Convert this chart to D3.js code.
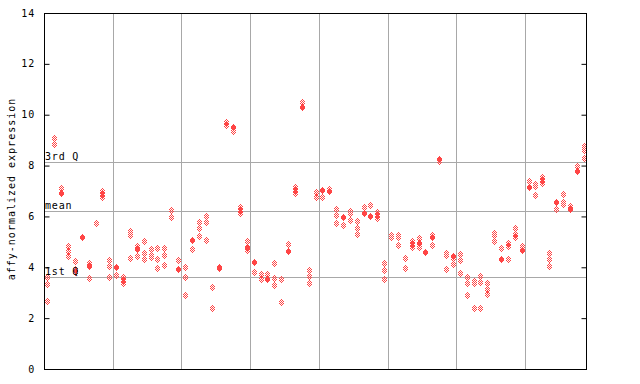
<!DOCTYPE html>
<html><head><meta charset="utf-8">
<script src="https://cdn.jsdelivr.net/npm/d3@7"></script>
<style>
html,body{margin:0;padding:0;background:#fff;}
text{font-family:"DejaVu Sans Mono",monospace;font-size:10px;fill:#000;}
</style></head>
<body>
<svg id="chart" width="640" height="384"></svg>
<script>
// replicate values per sample column (hollow diamonds)
const samples = [
 [3.62,3.33,2.68],[9.07,8.84],[7.11],[4.85,4.63,4.44],[4.24,3.94,3.80],
 [],[4.16,3.57],[5.75],[7.00,6.88,6.75],[4.27,4.04,3.63],
 [3.68],[3.61,3.50,3.37],[5.44,5.26,4.35],[4.84,4.44],[5.03,4.55,4.31],
 [4.72,4.48,4.39],[4.75,4.31,3.96],[4.75,4.47,4.08],[6.25,5.97],[4.27],
 [4.00,3.61,2.90],[4.71],[5.77,5.53,5.22],[6.00,5.77,5.06],[3.21,2.40],
 [3.96],[9.73,9.61],[9.37],[6.37,6.25,6.15],[5.03,4.69],
 [3.80],[3.72,3.53],[3.72],[4.16,3.57,3.29],[3.53,2.63],
 [4.90],[7.14,7.03,6.91],[10.51],[3.88,3.65,3.37],[6.97,6.78],
 [6.78],[7.09],[6.28,6.07,5.73],[5.65],[6.23,6.12,5.86],
 [5.81,5.53,5.30],[6.36],[6.45],[6.17,6.07,5.93],[4.16,3.88,3.53],
 [5.26,5.18],[5.26,5.18,4.86],[4.35,3.96],[5.02,4.90,4.78],[5.16,4.78],
 [],[5.26,4.86],[8.17],[4.55,4.47,3.92],[4.35,4.12],
 [4.51,4.27,3.76],[3.61,3.37,2.90],[3.45,3.37,2.40],[3.65,3.41,2.40],[3.37,3.13,2.94],
 [5.33,5.26,5.02],[4.75],[4.94,4.82,4.31],[5.53,5.30,5.18],[4.82,4.75],
 [7.39],[7.26,7.18,6.83],[7.54,7.42,7.30],[4.55,4.31,4.04],[6.28],
 [6.87,6.55,6.48],[6.40],[7.97],[8.76,8.60,8.29]
];
// highlighted (filled) value per column, null when none
const filled = [
 null,null,6.93,null,null, 5.18,4.05,null,null,null,
 4.02,null,null,4.71,null, null,null,null,null,3.94,
 null,5.09,null,null,null, 4.00,null,9.53,null,4.81,
 4.22,null,3.55,null,null, 4.65,null,10.31,null,null,
 7.05,7.01,null,5.99,null, null,6.15,6.03,null,null,
 null,null,null,null,4.94, 4.61,5.18,8.26,null,4.43,
 null,null,null,null,null, null,4.33,null,null,4.67,
 7.16,null,null,null,6.58, null,6.28,7.80,null
];
const yTicks = [0,2,4,6,8,10,12,14];
const refLines = [{label:"3rd Q", v:8.16},{label:"mean", v:6.2},{label:"1st Q", v:3.6}];
const groupSize = 10;
const yLabel = "affy-normalized expression";

const svg = d3.select("#chart");
const L=44, R=587, T=13, B=369;
const x = d3.scaleLinear().domain([0, samples.length]).range([L, R]);
const y = d3.scaleLinear().domain([0, 14]).range([B, T]);
const px = v => Math.round(v) + 0.5;
const red = "#ff4545";

// vertical group separators
const seps = d3.range(groupSize, samples.length, groupSize);
svg.selectAll("line.vsep").data(seps).join("line")
  .attr("x1", d=>px(x(d))).attr("x2", d=>px(x(d)))
  .attr("y1", T).attr("y2", B)
  .attr("stroke", "#a8a8a8").attr("stroke-width", 1);

// reference lines
svg.selectAll("line.ref").data(refLines).join("line")
  .attr("x1", L).attr("x2", R)
  .attr("y1", d=>px(y(d.v))).attr("y2", d=>px(y(d.v)))
  .attr("stroke", "#a8a8a8").attr("stroke-width", 1);

// hollow checker diamond pixel offsets (5 wide x 7 tall)
const hollowPix = [];
for (let dy=-3; dy<=3; dy++) for (let dx=-2; dx<=2; dx++) {
  if (Math.abs(dx)/3 + Math.abs(dy)/4 <= 1.0 && Math.abs(dx+dy)%2===1) hollowPix.push([dx,dy]);
}
const pts = [];
samples.forEach((arr,i)=>arr.forEach(v=>pts.push({i, v})));
const hollow = svg.append("g").attr("shape-rendering","crispEdges");
pts.forEach(p=>{
  const cx = Math.round(x(p.i+0.5)), cy = Math.round(y(p.v));
  hollow.append("path")
    .attr("d", hollowPix.map(([dx,dy])=>`M${cx+dx},${cy+dy}h1v1h-1Z`).join(""))
    .attr("fill", red);
});
const fg = svg.append("g").attr("shape-rendering","crispEdges");
filled.forEach((v,i)=>{
  if (v === null) return;
  const cx = Math.round(x(i+0.5)), cy = Math.round(y(v));
  const rows = [[-3,0],[-2,1],[-1,2],[0,2],[1,2],[2,1],[3,0]];
  fg.append("path")
    .attr("d", rows.map(([dy,w])=>`M${cx-w},${cy+dy}h${2*w+1}v1h-${2*w+1}Z`).join(""))
    .attr("fill", red);
});

// reference labels
svg.selectAll("text.ref").data(refLines).join("text")
  .attr("x", L+1).attr("y", d=>y(d.v)-2)
  .attr("letter-spacing", "0.8px")
  .text(d=>d.label);

// frame
svg.append("rect").attr("x", L+0.5).attr("y", T+0.5).attr("width", R-L-1).attr("height", B-T)
  .attr("fill","none").attr("stroke","#000").attr("stroke-width",1);

// axes
const axL = svg.append("g").attr("transform", `translate(${L+0.5},0)`)
  .call(d3.axisRight(y).tickValues(yTicks).tickSize(5).tickFormat(""));
axL.select(".domain").remove();
const axR = svg.append("g").attr("transform", `translate(${R-0.5},0)`)
  .call(d3.axisLeft(y).tickValues(yTicks).tickSize(5).tickFormat(""));
axR.select(".domain").remove();
svg.selectAll(".tick line").attr("stroke","#000");
svg.selectAll("text.yt").data(yTicks).join("text")
  .attr("x", 35).attr("y", d=>y(d)+3.5)
  .attr("text-anchor","end").attr("letter-spacing","0.8px")
  .text(d=>d);

svg.append("text")
  .attr("transform", `translate(15,${(T+B)/2-2}) rotate(-90)`)
  .attr("text-anchor","middle").attr("letter-spacing","1px")
  .text(yLabel);
</script>
</body></html>
